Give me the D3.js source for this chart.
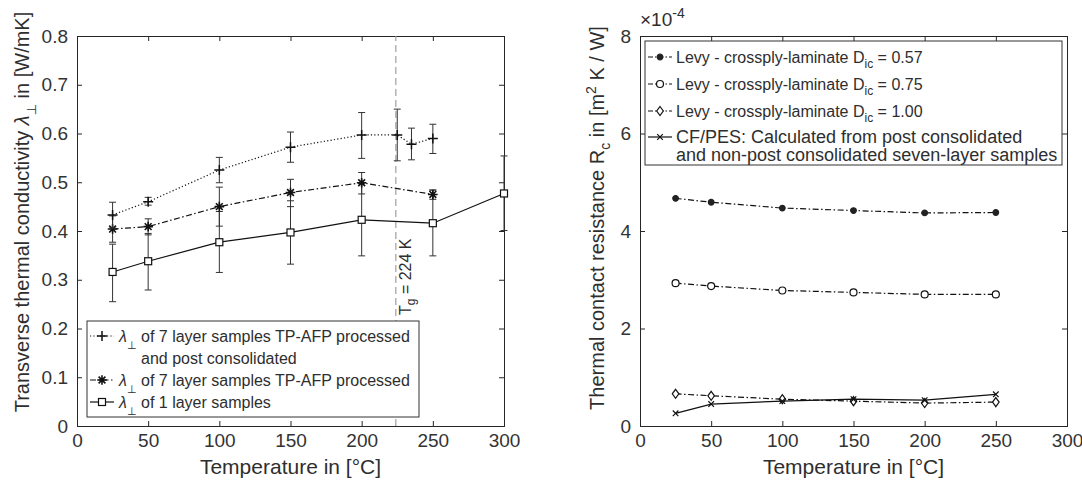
<!DOCTYPE html>
<html><head><meta charset="utf-8">
<script src="https://cdn.jsdelivr.net/npm/d3@7"></script>
<style>
body{margin:0;background:#fff;}
svg text{font-family:"Liberation Sans",Arial,Helvetica,sans-serif;fill:#2e2e2e;}
</style></head>
<body><svg id="c" width="1082" height="486"></svg>
<script>
// ---------- data ----------
const xTicks = [0,50,100,150,200,250,300];
const leftYTicks = [0,0.1,0.2,0.3,0.4,0.5,0.6,0.7,0.8];
const leftYTickLabels = ["0","0.1","0.2","0.3","0.4","0.5","0.6","0.7","0.8"];
const rightYTicks = [0,2,4,6,8];
const rightYTickLabels = ["0","2","4","6","8"];

// left: 7 layer, TP-AFP processed and post consolidated
const s1X  = [25,50,100,150,200,225,235,250];
const s1Y  = [0.433,0.460,0.525,0.572,0.597,0.597,0.578,0.590];
const s1Lo = [0.406,0.453,0.499,0.541,0.549,0.544,0.546,0.559];
const s1Hi = [0.459,0.469,0.551,0.603,0.643,0.650,0.611,0.619];
// left: 7 layer, TP-AFP processed
const s2X  = [25,50,100,150,200,250];
const s2Y  = [0.404,0.409,0.450,0.479,0.499,0.475];
const s2Lo = [0.377,0.392,0.410,0.450,0.476,0.465];
const s2Hi = [0.431,0.425,0.490,0.506,0.520,0.484];
// left: 1 layer
const s3X  = [25,50,100,150,200,250,300];
const s3Y  = [0.316,0.338,0.377,0.397,0.423,0.416,0.477];
const s3Lo = [0.255,0.279,0.315,0.332,0.349,0.349,0.401];
const s3Hi = [0.373,0.395,0.440,0.462,0.497,0.484,0.554];
const tgValue = 224;

// right (x 1e-4)
const rX    = [25,50,100,150,200,250];
const r057  = [4.67,4.59,4.47,4.42,4.37,4.38];
const r075  = [2.93,2.87,2.78,2.74,2.70,2.70];
const r100  = [0.66,0.62,0.55,0.51,0.47,0.49];
const rCF   = [0.26,0.45,0.51,0.55,0.53,0.65];

// ---------- drawing ----------
const svg = d3.select("#c");
const AX = "#262626";
const TICKF = 19, LABF = 21, LEGF = 16, LEGF_R1 = 16, LEGF_R2 = 18;
const PERP_FONT = "DejaVu Sans, sans-serif";

const xL = d3.scaleLinear().domain([0,300]).range([77,504]);
const yL = d3.scaleLinear().domain([0,0.8]).range([426,36]);
const xR = d3.scaleLinear().domain([0,300]).range([640,1067]);
const yR = d3.scaleLinear().domain([0,8]).range([426,36]);

function axesBox(x, y, yt, ytl){
  const g = svg.append("g");
  const [x0,x1] = x.range(), [y0,y1] = y.range();
  g.append("g").attr("transform",`translate(0,${y0})`)
    .call(d3.axisBottom(x).tickValues(xTicks).tickSize(-5).tickPadding(8).tickFormat(d3.format("d")));
  g.append("g").attr("transform",`translate(0,${y1})`)
    .call(d3.axisTop(x).tickValues(xTicks).tickSize(-5).tickFormat(""));
  g.append("g").attr("transform",`translate(${x0},0)`)
    .call(d3.axisLeft(y).tickValues(yt).tickSize(-5).tickPadding(9).tickFormat((d,i)=>ytl[i]));
  g.append("g").attr("transform",`translate(${x1},0)`)
    .call(d3.axisRight(y).tickValues(yt).tickSize(-5).tickFormat(""));
  g.selectAll(".domain").attr("stroke",AX).attr("stroke-width",1);
  g.selectAll(".tick line").attr("stroke",AX);
  g.selectAll(".tick text").attr("font-size",TICKF).style("fill","#333")
    .attr("font-family","Liberation Sans, Arial, sans-serif");
  return g;
}

function marker(g, type, cx, cy){
  const m = g.append("g").attr("transform",`translate(${cx},${cy})`)
    .attr("stroke","#111").attr("stroke-width",1.2).attr("fill","none");
  if(type==="plus"){ const s=5;
    m.append("path").attr("d",`M${-s},0H${s}M0,${-s}V${s}`).attr("stroke-width",1.5); }
  else if(type==="star"){ const s=4.8, d=3.4;
    m.append("path").attr("d",`M${-s},0H${s}M0,${-s}V${s}M${-d},${-d}L${d},${d}M${-d},${d}L${d},${-d}`).attr("stroke-width",1.6); }
  else if(type==="square"){ m.append("rect").attr("x",-3.5).attr("y",-3.5).attr("width",7).attr("height",7).attr("fill","#fff"); }
  else if(type==="dot"){ m.append("circle").attr("r",2.8).attr("fill","#222").attr("stroke","#222"); }
  else if(type==="circle"){ m.append("circle").attr("r",3.5).attr("fill","#fff"); }
  else if(type==="diamond"){ m.append("path").attr("d","M0,-4.5L3.3,0L0,4.5L-3.3,0Z").attr("fill","#fff"); }
  else if(type==="x"){ const s=2.8; m.append("path").attr("d",`M${-s},${-s}L${s},${s}M${-s},${s}L${s},${-s}`); }
}

function series(g, x, y, xs, ys, dash, mtype, lo, hi){
  if(lo){
    xs.forEach((d,i)=>{
      const px = x(d);
      g.append("path").attr("d",`M${px},${y(lo[i])}V${y(hi[i])}M${px-3.5},${y(lo[i])}H${px+3.5}M${px-3.5},${y(hi[i])}H${px+3.5}`)
        .attr("stroke","#333").attr("stroke-width",1).attr("fill","none");
    });
  }
  const line = d3.line().x((d,i)=>x(xs[i])).y(d=>y(d));
  g.append("path").attr("d",line(ys)).attr("fill","none").attr("stroke","#111")
    .attr("stroke-width",1.2).attr("stroke-dasharray",dash);
  ys.forEach((d,i)=>marker(g,mtype,x(xs[i]),y(d)));
}

const DOT = "1.2,2.2", DASHDOT = "6,2.5,1.5,2.5";

// ---- left plot ----
axesBox(xL, yL, leftYTicks, leftYTickLabels);
const gl = svg.append("g");
gl.append("line").attr("x1",xL(tgValue)).attr("x2",xL(tgValue)).attr("y1",yL(0)).attr("y2",yL(0.8))
  .attr("stroke","#a0a0a0").attr("stroke-width",1.2).attr("stroke-dasharray","7,4");
series(gl, xL, yL, s3X, s3Y, null, "square", s3Lo, s3Hi);
series(gl, xL, yL, s2X, s2Y, DASHDOT, "star", s2Lo, s2Hi);
series(gl, xL, yL, s1X, s1Y, DOT, "plus", s1Lo, s1Hi);

// Tg label
const tg = svg.append("text").attr("transform",`translate(${xL(tgValue)+15},315) rotate(-90)`)
  .attr("font-size",16);
tg.append("tspan").text("T");
tg.append("tspan").attr("dy",4).attr("font-size",12).text("g");
tg.append("tspan").attr("dy",-4).text(" = 224 K");

// left legend
const lg = svg.append("g");
lg.append("rect").attr("x",87).attr("y",321).attr("width",332).attr("height",96)
  .attr("fill","#fff").attr("stroke","#333").attr("stroke-width",1);
const legL = [
  {y:336, dash:DOT, m:"plus", txt:"of 7 layer samples TP-AFP processed"},
  {y:380, dash:DASHDOT, m:"star", txt:"of 7 layer samples TP-AFP processed"},
  {y:402, dash:null, m:"square", txt:"of 1 layer samples"}
];
legL.forEach(r=>{
  lg.append("path").attr("d",`M90,${r.y}H114`).attr("stroke","#111").attr("stroke-width",1.2)
    .attr("stroke-dasharray",r.dash).attr("fill","none");
  marker(lg, r.m, 102, r.y);
  const t = lg.append("text").attr("x",119).attr("y",r.y+6).attr("font-size",LEGF);
  t.append("tspan").attr("font-style","italic").text("λ");
  t.append("tspan").attr("dy",7).attr("font-size",11).attr("font-family",PERP_FONT).text("⊥");
  t.append("tspan").attr("x",141).attr("dy",-7).text(r.txt);
});
lg.append("text").attr("x",141).attr("y",358+6).attr("font-size",LEGF).text("and post consolidated");

// left axis labels
svg.append("text").attr("x",xL(150)).attr("y",474).attr("text-anchor","middle")
  .attr("font-size",LABF).text("Temperature in [°C]");
const yl = svg.append("text").attr("transform","translate(29,212) rotate(-90)")
  .attr("text-anchor","middle").attr("font-size",20);
yl.append("tspan").text("Transverse thermal conductivity ");
yl.append("tspan").attr("font-style","italic").text("λ");
yl.append("tspan").attr("dy",7).attr("font-size",13).attr("font-family",PERP_FONT).text("⊥");
yl.append("tspan").attr("dy",-7).text(" in [W/mK]");

// ---- right plot ----
axesBox(xR, yR, rightYTicks, rightYTickLabels);
const gr = svg.append("g");
series(gr, xR, yR, rX, r057, DASHDOT, "dot");
series(gr, xR, yR, rX, r075, DASHDOT, "circle");
series(gr, xR, yR, rX, r100, DASHDOT, "diamond");
series(gr, xR, yR, rX, rCF, null, "x");

// exponent label
const ex = svg.append("text").attr("x",640).attr("y",26).attr("font-size",19);
ex.append("tspan").text("×10");
ex.append("tspan").attr("dy",-8).attr("font-size",14).text("-4");

// right legend
const rg = svg.append("g");
rg.append("rect").attr("x",645).attr("y",41).attr("width",417).attr("height",124)
  .attr("fill","#fff").attr("stroke","#333").attr("stroke-width",1);
const legR = [
  {y:57, dash:DASHDOT, m:"dot", d:"0.57"},
  {y:84, dash:DASHDOT, m:"circle", d:"0.75"},
  {y:111, dash:DASHDOT, m:"diamond", d:"1.00"}
];
legR.forEach(r=>{
  rg.append("path").attr("d",`M648,${r.y}H672`).attr("stroke","#111").attr("stroke-width",1.2)
    .attr("stroke-dasharray","5,2,1.5,2").attr("fill","none");
  marker(rg, r.m, 660, r.y);
  const t = rg.append("text").attr("x",676).attr("y",r.y+6).attr("font-size",LEGF_R1);
  t.append("tspan").text("Levy - crossply-laminate D");
  t.append("tspan").attr("dy",5).attr("font-size",12).text("ic");
  t.append("tspan").attr("dy",-5).text(" = " + r.d);
});
rg.append("path").attr("d","M648,137H672").attr("stroke","#111").attr("stroke-width",1.2);
marker(rg, "x", 660, 137);
rg.append("text").attr("x",676).attr("y",143).attr("font-size",LEGF_R2).text("CF/PES: Calculated from post consolidated");
rg.append("text").attr("x",676).attr("y",161).attr("font-size",LEGF_R2).text("and non-post consolidated seven-layer samples");

// right axis labels
svg.append("text").attr("x",xR(150)).attr("y",474).attr("text-anchor","middle")
  .attr("font-size",LABF).text("Temperature in [°C]");
const yr = svg.append("text").attr("transform","translate(604,218) rotate(-90)")
  .attr("text-anchor","middle").attr("font-size",20);
yr.append("tspan").text("Thermal contact resistance R");
yr.append("tspan").attr("dy",6).attr("font-size",14).text("c");
yr.append("tspan").attr("dy",-6).text(" in [m");
yr.append("tspan").attr("dy",-8).attr("font-size",14).text("2");
yr.append("tspan").attr("dy",8).text(" K / W]");
</script></body></html>
